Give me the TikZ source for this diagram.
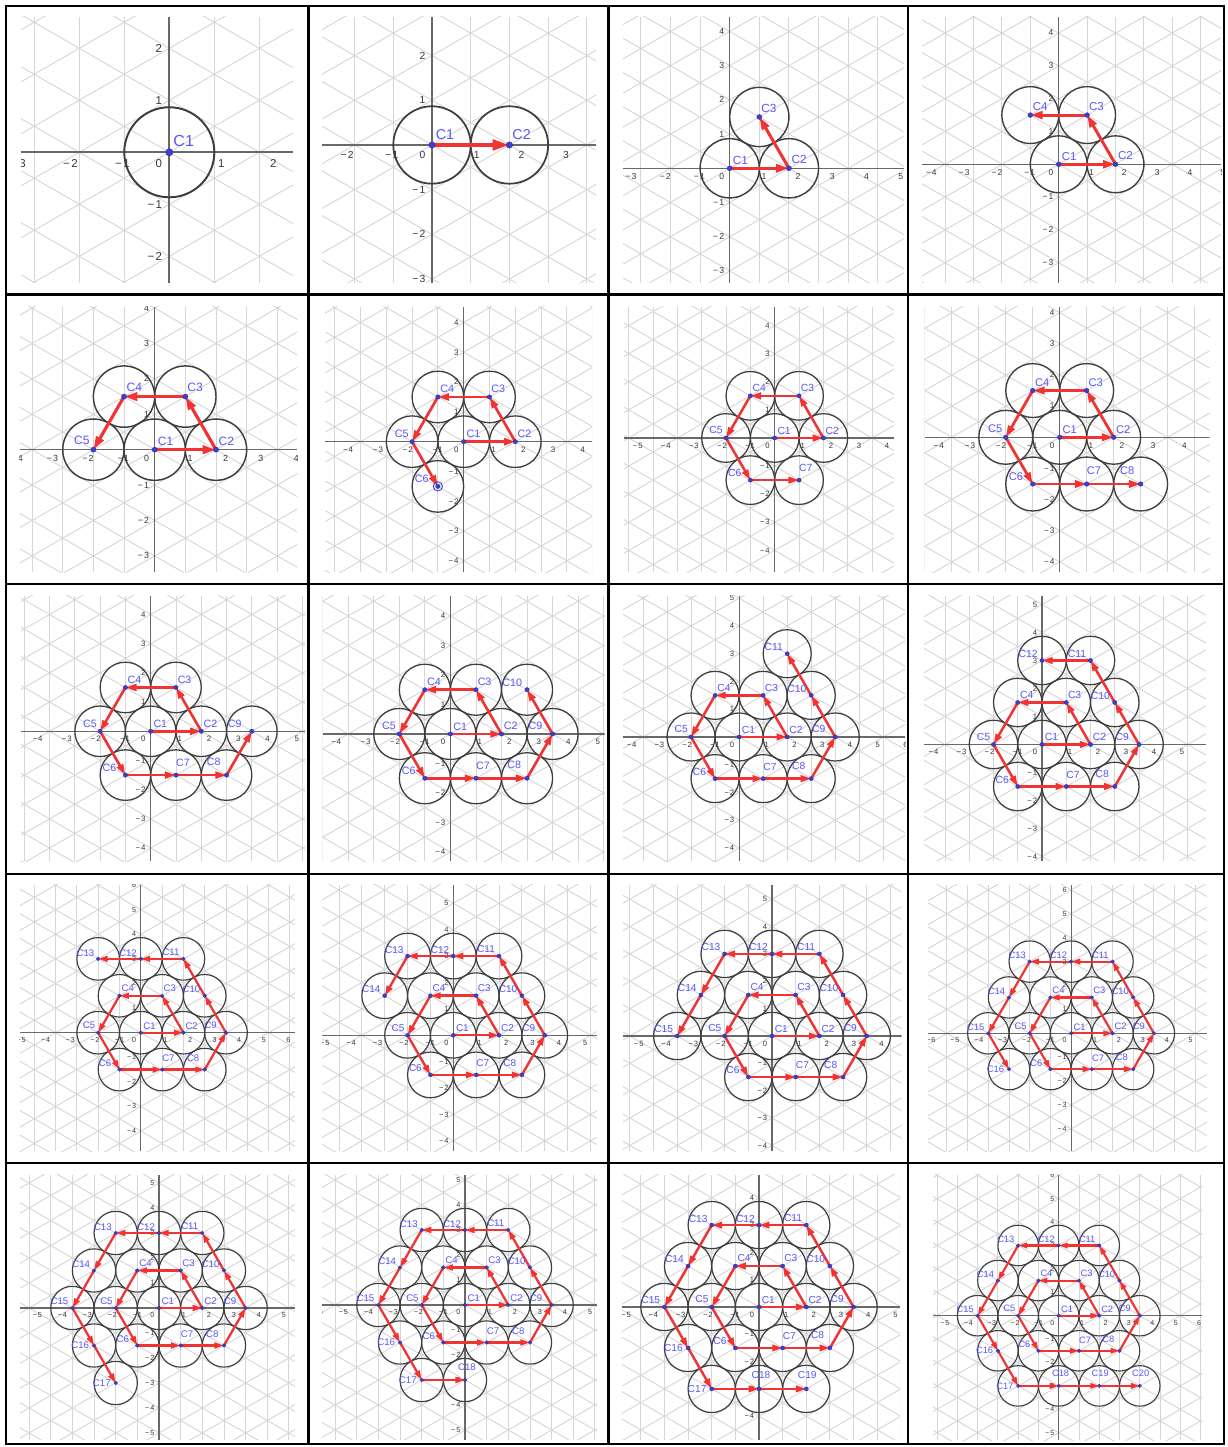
\documentclass[tikz,border=0pt]{standalone}
\usepackage{fontspec}
\setmainfont{Liberation Sans}
\usetikzlibrary{arrows.meta}
\definecolor{gridc}{RGB}{214,214,214}
\definecolor{axisc}{RGB}{105,105,105}
\definecolor{circc}{RGB}{62,62,62}
\definecolor{arrc}{RGB}{240,52,52}
\definecolor{ptc}{RGB}{62,62,210}
\definecolor{labc}{RGB}{88,88,250}
\definecolor{tickc}{RGB}{55,55,55}
\tikzset{
  gridline/.style={draw=gridc, line width=0.9pt},
  axisline/.style={draw=axisc, line width=\axlw pt},
  circ/.style={draw=circc, line width=\clw pt},
  arr/.style={draw=arrc, line width=\alw pt, -{Triangle[length=0pt 4.2, width=0pt 2.6]}},
  dotp/.style={fill=ptc, draw=ptc!70!black, line width=0.3pt},
  clab/.style={text=labc, inner sep=0pt, font=\fontsize{\cfs}{\cfs}\selectfont},
  tlab/.style={text=tickc, inner sep=0pt, font=\fontsize{\tfs}{\tfs}\selectfont},
  frame/.style={draw=black, line width=2.2pt}
}
\def\spirallist{1/0/0/base west/0.25/0.35,
2/2/0/base west/0.2/0.38,
3/1/1/base west/0.15/0.4,
4/-1/1/base west/0.2/0.4,
5/-2/0/base east/-0.3/0.4,
6/-1/-1/base east/-0.85/0.33,
7/1/-1/base west/0/0.82,
8/3/-1/base east/-0.55/0.88,
9/4/0/base east/-0.95/0.4,
10/3/1/base east/-0.45/0.3,
11/2/2/base east/-0.4/0.33,
12/0/2/base east/-0.4/0.3,
13/-2/2/base east/-0.4/0.3,
14/-3/1/base east/-0.4/0.35,
15/-4/0/base east/-0.4/0.35,
16/-3/-1/east/-0.5/0,
17/-2/-2/east/-0.5/0,
18/0/-2/base/0.2/1.0,
19/2/-2/base/0.1/1.0,
20/4/-2/base/0.1/1.0}
% #1 id, #2 x1, #3 y1, #4 x2, #5 y2 (graph area, px, y down), #6 ox, #7 oy (origin px), #8 unit px, #9 number of circles
\newcommand{\geopanel}[9]{%
  \pgfmathsetmacro\xmin{(#2-#6)/#8}%
  \pgfmathsetmacro\xmax{(#4-#6)/#8}%
  \pgfmathsetmacro\ymin{(#7-#5)/#8}%
  \pgfmathsetmacro\ymax{(#7-#3)/#8}%
  \pgfmathsetmacro\tfs{3.3+0.157*#8}%
  \pgfmathsetmacro\cfs{3.8+0.234*#8}%
  \pgfmathsetmacro\dotr{0.3+0.065*#8}%
  \pgfmathsetmacro\clw{0.4+0.03*#8}%
  \pgfmathsetmacro\alw{0.1+0.087*#8}%
  \pgfmathsetmacro\axlw{0.6+0.02*#8}%
  \pgfmathsetmacro\tsh{0.62*\tfs}%
  \pgfmathsetmacro\tnx{0.2*\tfs}%
  \pgfmathtruncatemacro\ixa{(ceil(\xmin)-\xmin>0.7) ? ceil(\xmin)-1 : ceil(\xmin)}%
  \pgfmathtruncatemacro\ixb{(\xmax-floor(\xmax)>0.9) ? floor(\xmax)+1 : floor(\xmax)}%
  \pgfmathtruncatemacro\iya{ceil(\ymin)}%
  \pgfmathtruncatemacro\iyb{floor(\ymax)}%
  \def\pid{#1}\def\pn{#9}%
  \begin{scope}
    \clip (#2,{1447-#3}) rectangle (#4,{1447-#5});
    \begin{scope}[shift={(#6,{1447-#7})}, x=#8pt, y=#8pt]
      \foreach \k in {-10,...,10}{\draw[gridline] ({\k*0.8660254},\ymin) -- ({\k*0.8660254},\ymax);}
      \foreach \j in {-11,...,11}{%
        \draw[gridline] (\xmin,{\xmin*0.57735+\j}) -- (\xmax,{\xmax*0.57735+\j});
        \draw[gridline] (\xmin,{-\xmin*0.57735+\j}) -- (\xmax,{-\xmax*0.57735+\j});}
      \draw[axisline] (\xmin,0) -- (\xmax,0);
      \draw[axisline] (0,\ymin) -- (0,\ymax);
      \foreach \i in {\ixa,...,\ixb}{%
        \ifnum\i=0\relax\else
          \ifnum\i<0\relax
            \node[tlab, anchor=north west, xshift=-\tnx pt, yshift=-\tsh pt] (xl\pid\i) at (\i,0) {−\kern0.12em\number-\i};
          \else
            \node[tlab, anchor=north, yshift=-\tsh pt] (xl\pid\i) at (\i,0) {\i};
          \fi
        \fi}
      \foreach \i in {\iya,...,\iyb}{%
        \ifnum\i=0\relax\else
          \ifnum\i<0\relax
            \node[tlab, anchor=east, xshift=-\tsh pt] (yl\pid\i) at (0,\i) {−\kern0.12em\number-\i};
          \else
            \node[tlab, anchor=east, xshift=-\tsh pt] (yl\pid\i) at (0,\i) {\i};
          \fi
        \fi}
      \node[tlab, anchor=north east, xshift=-\tsh pt, yshift=-\tsh pt] (zl\pid) at (0,0) {0};
      \foreach \k/\p/\q/\an/\dx/\dy in \spirallist {%
        \ifnum\k>\pn\relax\else
          \coordinate (c\pid-\k) at ({\p*0.8660254},{\q*1.5});
          \draw[circ] (c\pid-\k) circle [radius=0.8660254];
        \fi}
      \ifnum\pn>1\relax
        \foreach \k [remember=\k as \kp (initially 1)] in {2,...,\pn}{%
          \draw[arr] (c\pid-\kp) -- (c\pid-\k);}
      \fi
      \foreach \k/\p/\q/\an/\dx/\dy in \spirallist {%
        \ifnum\k>\pn\relax\else
          \filldraw[dotp] (c\pid-\k) circle [radius=\dotr pt];
          \pgfmathsetmacro\ddx{\dx*\cfs}%
          \pgfmathsetmacro\ddy{\dy*\cfs}%
          \node[clab, anchor=\an, xshift=\ddx pt, yshift=\ddy pt] (t\pid-\k) at (c\pid-\k) {C\k};
        \fi}
    \end{scope}
  \end{scope}}
\begin{document}
\begin{tikzpicture}[x=1pt, y=1pt]
\useasboundingbox (0,0) rectangle (1227,1447);
\fill[white] (0,0) rectangle (1227,1447);
% row 1
\geopanel{1}{21}{17}{293}{283}{169.3}{152.3}{52}{1}
\geopanel{2}{322}{17}{596}{283}{432}{145}{44.7}{2}
\geopanel{3}{623}{17}{904}{283}{729.7}{168.3}{34.2}{3}
\geopanel{4}{922}{17}{1221}{283}{1058.7}{164.3}{32.8}{4}
% row 2
\geopanel{5}{19.7}{306.7}{297.4}{572.3}{154.7}{449.7}{35.4}{5}
\geopanel{6}{325.2}{306.7}{592.2}{572.3}{463.7}{441.7}{29.8}{6}
\draw[draw=ptc, line width=0.9pt] (c6-6) circle [radius=4.6pt];
\geopanel{7}{624}{306.7}{894}{572.3}{774.7}{438}{28.1}{7}
\geopanel{8}{924.7}{306.7}{1209.7}{572.3}{1059.7}{437.3}{31.15}{8}
% row 3
\geopanel{9}{21}{595.7}{305}{861.3}{150.7}{731.3}{29.2}{9}
\geopanel{10}{322.6}{595.7}{604.7}{861.3}{450.4}{734}{29.5}{10}
\geopanel{11}{622.8}{595.7}{905}{861.3}{739.1}{737}{27.75}{11}
\geopanel{12}{924}{596}{1206}{861}{1042}{744.5}{28}{12}
% row 4
\geopanel{13}{19.7}{884.7}{295.1}{1151.3}{140.8}{1032.7}{24.6}{13}
\geopanel{14}{322.1}{884.7}{597.2}{1151.3}{453.3}{1035.3}{26.4}{14}
\geopanel{15}{623}{884.7}{901.7}{1151.3}{772}{1036}{27.35}{15}
\geopanel{16}{928}{884.7}{1207}{1151.3}{1071.1}{1033.3}{23.9}{16}
% row 5
\geopanel{17}{20}{1175}{295}{1440}{159}{1308}{25}{17}
\geopanel{18}{322}{1175}{597}{1440}{465}{1305}{25}{18}
\geopanel{19}{622}{1175}{900}{1440}{759}{1307}{27.3}{19}
\geopanel{20}{933}{1174.7}{1202}{1440.3}{1058.7}{1315.7}{23.4}{20}
% table frame
\draw[frame] (6.3,{1447-6.3}) rectangle (1224,{1447-1444});
\foreach \xx in {308.5,608.5,908}{\draw[frame] (\xx,{1447-6.3}) -- (\xx,{1447-1444});}
\foreach \yy in {294.5,584,874,1163}{\draw[frame] (6.3,{1447-\yy}) -- (1224,{1447-\yy});}
\end{tikzpicture}
\end{document}
